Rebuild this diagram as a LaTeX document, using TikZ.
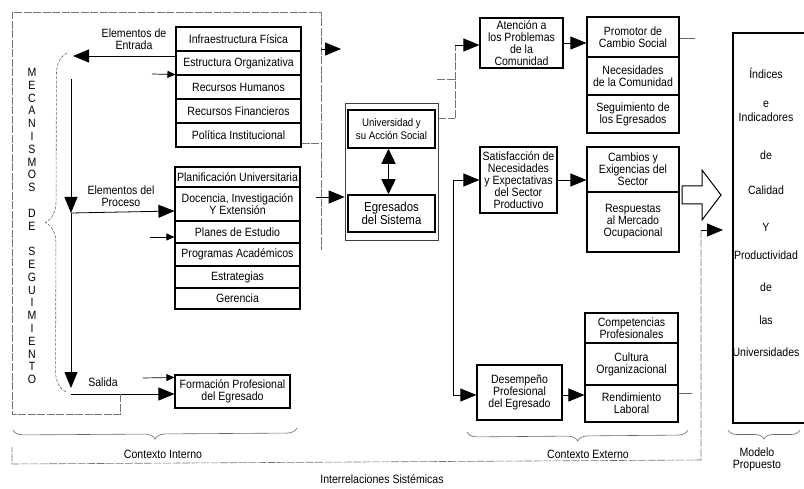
\documentclass[tikz,border=0pt]{standalone}
\usepackage{fontspec}
\setmainfont{Liberation Sans}[FakeStretch=0.88]
\usetikzlibrary{arrows.meta,decorations.pathreplacing}
\newcommand{\letra}{\fontsize{12}{12}\selectfont}
\begin{document}
\begin{tikzpicture}[x=1pt,y=-1pt,
  caja/.style={draw,line width=1.1pt,inner sep=1pt,align=center,font=\letra},
  marco/.style={draw=black!55,line width=0.6pt,dash pattern=on 8pt off 1.5pt},
  flecha/.style={-{Triangle[length=16pt,width=13pt]},line width=0.8pt},
  flechita/.style={-{Triangle[length=8pt,width=7pt]},line width=0.7pt},
  llave/.style={draw=black!60,line width=0.6pt,decorate,decoration={brace,amplitude=#1}},
  rotulo/.style={font=\letra,align=center}]
\useasboundingbox (0,0) rectangle (804,489);
% contexto interno
\node[caja,minimum width=125,minimum height=24] at (238.5,39) (infra) {Infraestructura Física};
\node[caja,minimum width=125,minimum height=24] at (238.5,63) (estr) {Estructura Organizativa};
\node[caja,minimum width=125,minimum height=24] at (238.5,87) (rh) {Recursos Humanos};
\node[caja,minimum width=125,minimum height=24] at (238.5,111) (rf) {Recursos Financieros};
\node[caja,minimum width=125,minimum height=24] at (238.5,135) (poli) {Política Institucional};
\node[caja,minimum width=125,minimum height=20] at (237.5,177) (plan) {Planificación Universitaria};
\node[caja,minimum width=125,minimum height=34] at (237.5,204) (doc) {Docencia, Investigación\\Y Extensión};
\node[caja,minimum width=125,minimum height=22] at (237.5,232) (planes) {Planes de Estudio};
\node[caja,minimum width=125,minimum height=23] at (237.5,254.5) (prog) {Programas Académicos};
\node[caja,minimum width=125,minimum height=22] at (237.5,277) (estra) {Estrategias};
\node[caja,minimum width=125,minimum height=21] at (237.5,298.5) (ger) {Gerencia};
\node[caja,minimum width=115,minimum height=33] at (232.5,391.5) (form) {Formación Profesional\\del Egresado};
\node[rotulo] at (134,39) (lent) {Elementos de\\Entrada};
\node[rotulo] at (121,196) (lproc) {Elementos del\\Proceso};
\node[rotulo] at (103,382) (lsal) {Salida};
\node[font=\fontsize{12}{12.8}\selectfont,align=center] at (32,226) (mec)
  {M\\E\\C\\A\\N\\I\\S\\M\\O\\S\\\mbox{}\\D\\E\\\mbox{}\\S\\E\\G\\U\\I\\M\\I\\E\\N\\T\\O};
\draw[llave=21pt,dash pattern=on 3pt off 1.5pt] (66,392) -- (67,53);
\coordinate (ent) at (73,56);
\coordinate (v0) at (71,79);
\coordinate (v1) at (71,213);
\coordinate (v2) at (71,388);
\coordinate (v3) at (71,394);
\draw[flecha] ([yshift=7pt]estr.west) -- (ent);
\draw[flechita] (152,74) -- ([yshift=1pt]estr.south west);
\draw[flecha] (v0) -- (v1);
\draw[flecha] (v1) -- (v2);
\draw[flecha] (v1) -- ([yshift=-7pt]doc.west);
\draw[flechita] (150,237) -- ([yshift=-5pt]planes.west);
\draw[flecha] (v3) -- ([yshift=-2.5pt]form.west);
\draw[flechita] (143,378) -- ([yshift=-3pt]form.north west);
\draw[marco] (120,394) -- (120,414) -- (12,414) -- (12,12) -- (321,12) -- (321,250);
\draw[marco] (poli.east |- 0,143) -- (321,143);
\draw[flecha] (321,49) -- (341,49);
\draw[llave=10pt] (297,428) -- (13,430);
\node[rotulo] at (163,454) (cint) {Contexto Interno};
% universidad y egresados
\node[draw=black!75,line width=0.6pt,minimum width=93,minimum height=137] at (391.5,171.5) (centro) {};
\node[caja,line width=1.6pt,minimum width=87,minimum height=38,font=\fontsize{11}{12.5}\selectfont] at (391.5,129) (univ) {Universidad y\\su Acción Social};
\node[caja,line width=1.6pt,minimum width=87,minimum height=37,font=\fontsize{13}{13.5}\selectfont] at (391.5,213.5) (egre) {Egresados\\del Sistema};
\draw[{Triangle[length=15pt,width=14pt]}-{Triangle[length=15pt,width=14pt]},line width=1.6pt] ([xshift=-3pt]univ.south) -- ([xshift=-3pt]egre.north);
\draw[flecha] (316,197) -- (centro.west |- 0,197);
% contexto externo
\node[caja,minimum width=83,minimum height=50] at (521.5,43) (aten) {Atención a\\los Problemas\\de la\\Comunidad};
\node[caja,minimum width=77,minimum height=66] at (518.5,180) (satis) {Satisfacción de\\Necesidades\\y Expectativas\\del Sector\\Productivo};
\node[caja,minimum width=85,minimum height=55] at (519.5,392.5) (desem) {Desempeño\\Profesional\\del Egresado};
\node[caja,minimum width=92,minimum height=40] at (633,37) (prom) {Promotor de\\Cambio Social};
\node[caja,minimum width=92,minimum height=38] at (633,76) (nece) {Necesidades\\de la Comunidad};
\node[caja,minimum width=92,minimum height=38] at (633,114) (segu) {Seguimiento de\\los Egresados};
\node[caja,minimum width=92,minimum height=45] at (633,169.5) (camb) {Cambios y\\Exigencias del\\Sector};
\node[caja,minimum width=92,minimum height=60] at (633,222) (resp) {Respuestas\\al Mercado\\Ocupacional};
\node[caja,minimum width=93,minimum height=30] at (631.5,328) (comp) {Competencias\\Profesionales};
\node[caja,minimum width=93,minimum height=42] at (631.5,364) (cult) {Cultura\\Organizacional};
\node[caja,minimum width=93,minimum height=37] at (631.5,403.5) (rend) {Rendimiento\\Laboral};
\coordinate (a0) at (455,45);
\coordinate (a1) at (455,118);
\coordinate (b0) at (453,180);
\coordinate (b1) at (453,395);
\draw[marco] (a1) -- (a0);
\draw[marco] (centro.east |- a1) -- (a1);
\draw[marco] (437,79) -- (455,79);
\draw[flecha] (a0) -- (aten.west |- a0);
\draw[line width=0.6pt] (b0) -- (b1);
\draw[flecha] (b0) -- (satis.west);
\draw[flecha] (b1) -- (desem.west |- b1);
\draw[flecha] (aten.east) -- (prom.west |- aten.east);
\draw[flecha] (satis.east) -- (camb.west |- satis.east);
\draw[flecha] (desem.east |- b1) -- (rend.west |- b1);
\draw[line width=0.6pt,black!60] (prom.east |- 0,38) -- (695,38);
\draw[line width=0.6pt,black!60] (rend.east |- 0,393) -- (692,393);
\draw[llave=10pt] (688,430) -- (467,432);
\node[rotulo] at (588,454) (cext) {Contexto Externo};
% modelo propuesto
\node[draw,line width=1.1pt,minimum width=74,minimum height=390,inner sep=0pt] at (770,228) (modelo) {};
\foreach \t/\y [count=\i] in {Índices/73,e/104,Indicadores/117,de/155,Calidad/190,Y/227,Productividad/255,de/287,las/320,Universidades/352}
  \node[rotulo] at (766,\y) (ind\i) {\t};
\draw[line width=1pt,fill=white] (682,186) -- (702,186) -- (702,170) -- (721,195) -- (702,220) -- (702,204) -- (682,204) -- cycle;
\coordinate (m0) at (701,230);
\coordinate (m1) at (723,230);
\draw[flecha] (m0) -- (m1);
\draw[llave=9pt] (800,430) -- (728,430);
\node[rotulo] at (757,459) (mod) {Modelo\\Propuesto};
% interrelaciones
\draw[marco] (m0) -- (701,460) -- (12,464) -- (12,447);
\node[rotulo] at (382,479) (inter) {Interrelaciones Sistémicas};
\end{tikzpicture}
\end{document}
